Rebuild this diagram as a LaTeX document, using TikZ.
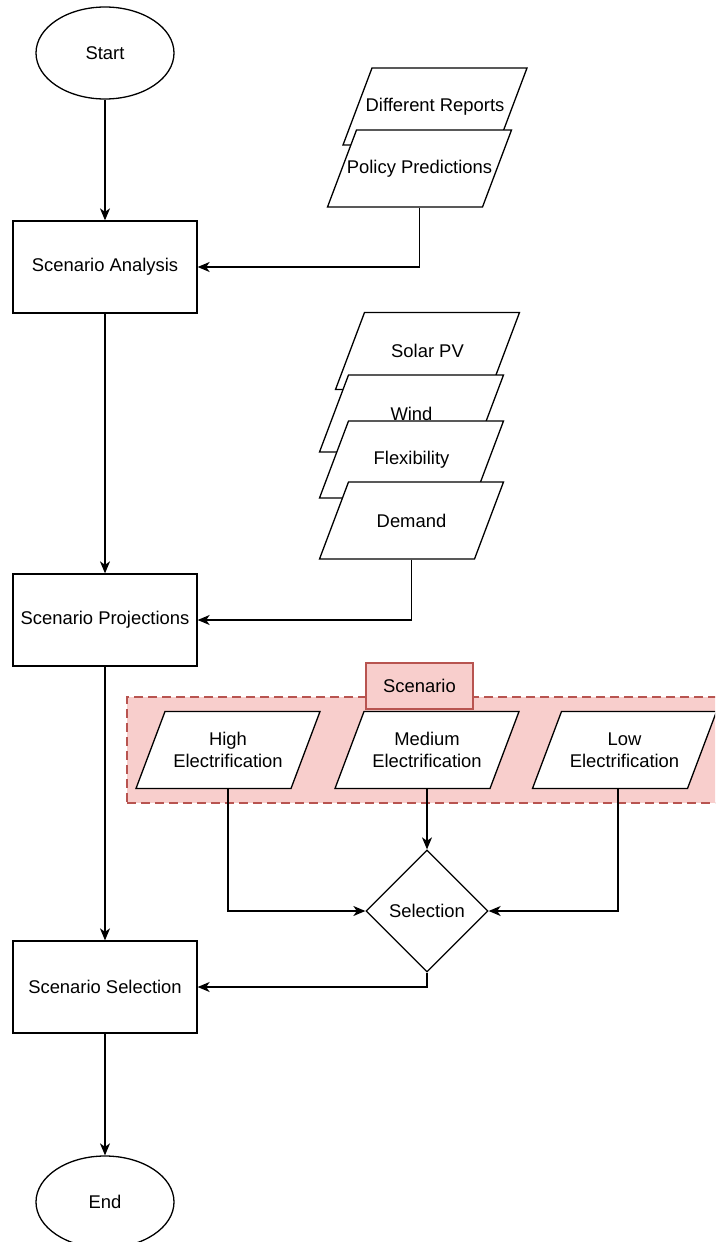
\documentclass[tikz,border=0pt]{standalone}
\usepackage{fontspec}
\setmainfont{Liberation Sans}
\usetikzlibrary{shapes.geometric,arrows.meta,calc}

\definecolor{grpfill}{HTML}{F8CECC}
\definecolor{grpline}{HTML}{B85450}

\tikzset{
  base/.style={font=\fontsize{18.4}{22}\selectfont, line width=1.3pt, align=center, inner sep=0pt},
  process/.style={base, draw, fill=white, rectangle, minimum width=184pt, minimum height=92pt},
  terminal/.style={base, draw, fill=white, ellipse, minimum width=138pt, minimum height=92pt},
  decision/.style={base, draw, fill=white, diamond, minimum width=122pt, minimum height=122pt},
  datatext/.style={base, rectangle, minimum width=184pt, minimum height=77pt},
  datafill/.style={draw, fill=white, line width=1.3pt, line join=miter},
  arr/.style={line width=1.3pt, -{Stealth[length=12pt,width=10pt,inset=3.5pt]}},
  groupbox/.style={base, draw=grpline, fill=grpfill, dash pattern=on 9pt off 5pt, rectangle},
  grouptitle/.style={base, draw=grpline, fill=grpfill, rectangle, minimum width=107pt, minimum height=46pt},
}

% data (input/output) symbol: slanted box drawn first, label node on top
\newcommand\datashape[4]{%
  \path[datafill] (#2-92,#3+38.5) -- (#2-63,#3-38.5) -- (#2+92,#3-38.5) -- (#2+63,#3+38.5) -- cycle;
  \node[datatext] (#1) at (#2,#3) {#4};}

\begin{document}
\begin{tikzpicture}[x=1pt,y=-1pt]
  \useasboundingbox (0,0) rectangle (715,1242);
  \clip (0,0) rectangle (715,1242);
  \fill[white] (0,0) rectangle (715,1242);

  % main flow
  \node[terminal] (start) at (105,53) {Start};
  \node[process] (ana) at (105,267) {Scenario Analysis};
  \node[process] (proj) at (105,620) {Scenario Projections};
  \node[process] (sel) at (105,987) {Scenario Selection};
  \node[terminal] (end) at (105,1202) {End};

  % inputs to the analysis
  \datashape{rep}{435}{106.5}{Different Reports}
  \datashape{pol}{419.5}{168.5}{Policy Predictions}

  % inputs to the projections
  \datashape{solar}{427.5}{351}{Solar PV}
  \datashape{wind}{411.5}{413.5}{Wind}
  \datashape{flex}{411.5}{459.5}{Flexibility}
  \datashape{dem}{411.5}{520.5}{Demand}

  % scenario group
  \node[groupbox, minimum width=620pt, minimum height=106pt] (grp) at (437,750) {};
  \node[grouptitle] (grpt) at (419.5,686) {Scenario};
  \datashape{high}{228}{750}{High\\Electrification}
  \datashape{med}{427}{750}{Medium\\Electrification}
  \datashape{low}{624.5}{750}{Low\\Electrification}

  \node[decision] (choose) at (427,911) {Selection};

  % connectors
  \draw[arr] (start.south) -- (ana.north);
  \draw[arr] (ana.south) -- (proj.north);
  \draw[arr] (proj.south) -- (sel.north);
  \draw[arr] (sel.south) -- (end.north);
  \draw[arr] (pol.south) |- (ana.east);
  \draw[arr] (dem.south) |- (proj.east);
  \draw[arr] (high.south) |- (choose.west);
  \draw[arr] (med.south) -- (choose.north);
  \draw[arr] ([xshift=-6.5pt]low.south) |- (choose.east);
  \draw[arr] (choose.south) |- (sel.east);
\end{tikzpicture}
\end{document}
